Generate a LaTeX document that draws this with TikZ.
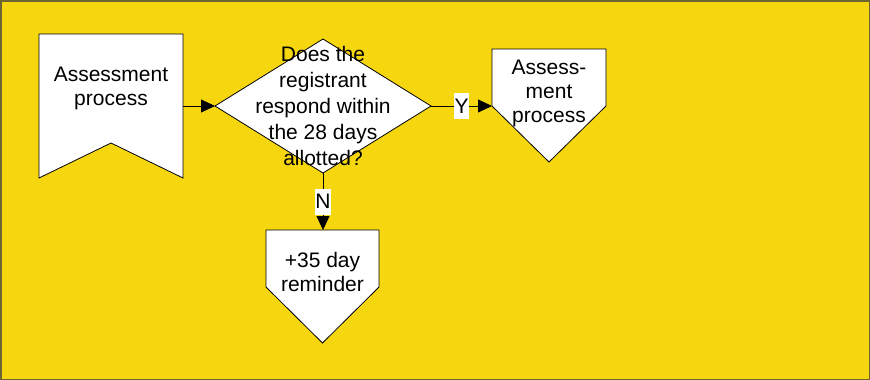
\documentclass[tikz,border=0pt]{standalone}
\usepackage{fontspec}
\setmainfont{Liberation Sans}
\usetikzlibrary{arrows.meta}
\definecolor{bg}{HTML}{F6D60F}
\definecolor{framec}{HTML}{6E6432}
\begin{document}
\begin{tikzpicture}[x=1pt,y=-1pt,
 shapebox/.style={draw=black,fill=white,line width=0.8pt,line join=miter},
 lbl/.style={align=center,inner sep=0pt},
 conn/.style={draw=black,line width=0.8pt,-{Triangle[length=14pt,width=13pt]}},
 tag/.style={fill=white,inner sep=0pt,inner xsep=0.6pt,text height=20pt,text depth=6pt,font=\fontsize{21}{25}\selectfont}]
\useasboundingbox (0,0) rectangle (870,380);
\fill[framec] (0,0) rectangle (870,380);
\fill[bg] (1.5,1.5) rectangle (868.5,378.5);
% shapes
\draw[shapebox] (39,34) -- (183,34) -- (183,178) -- (111,143) -- (39,178) -- cycle;
\draw[shapebox] (215,106) -- (323,39) -- (431,106) -- (323,173) -- cycle;
\draw[shapebox] (492,49) -- (606,49) -- (606,106) -- (549,162) -- (492,106) -- cycle;
\draw[shapebox] (266,230) -- (379,230) -- (379,287) -- (322.5,343) -- (266,287) -- cycle;
% connection points
\coordinate (aE) at (183,106);
\coordinate (dW) at (215,106);
\coordinate (dE) at (431,106);
\coordinate (dS) at (323,173);
\coordinate (rW) at (492,106);
\coordinate (bN) at (323,230);
% texts
\node[lbl,font=\fontsize{21}{24}\selectfont] (a) at (111,88) {Assessment\\process};
\node[lbl,font=\fontsize{21}{26}\selectfont] (d) at (323,105.5) {Does the\\registrant\\respond within\\the 28 days\\allotted?};
\node[lbl,font=\fontsize{21}{24}\selectfont] (r) at (549,93.5) {Assess-\\ment\\process};
\node[lbl,font=\fontsize{21}{24}\selectfont] (b) at (322.5,272) {+35 day\\reminder};
% connectors
\draw[conn] (aE) -- (dW);
\draw[conn] (dE) -- node[tag] (y) {Y} (rW);
\draw[conn] (dS) -- node[tag] (n) {N} (bN);
\end{tikzpicture}
\end{document}
